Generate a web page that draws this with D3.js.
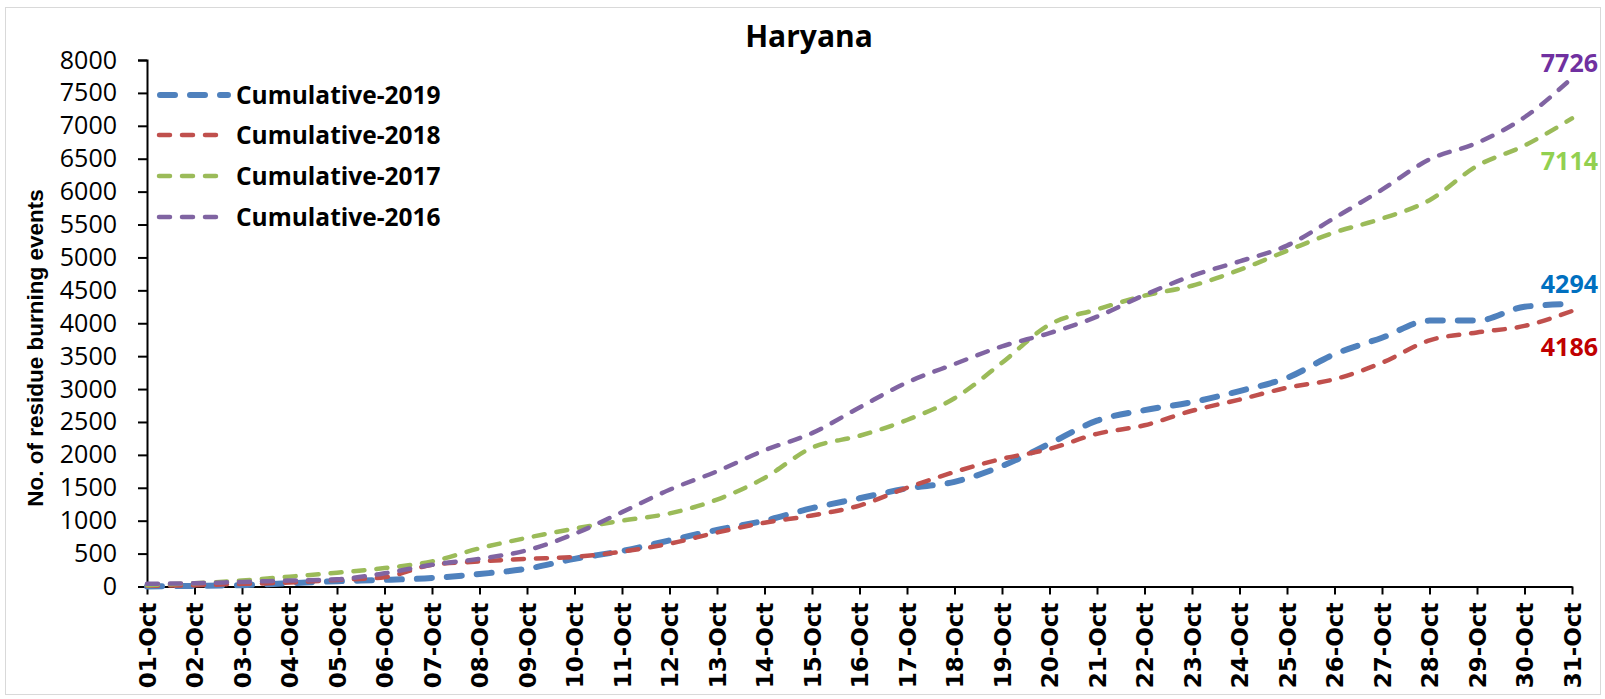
<!DOCTYPE html>
<html>
<head>
<meta charset="utf-8">
<script src="https://cdn.jsdelivr.net/npm/d3@7"></script>
<style>
  html, body { margin: 0; padding: 0; background: #fff; }
  svg { display: block; }
  .tick-y text { font-family: "Open Sans", sans-serif; font-size: 25px; fill: #000; }
  .tick-x text { font-family: "DejaVu Sans", sans-serif; font-weight: bold; font-size: 23px; fill: #000; }
  .legend-label { font-family: "Open Sans", sans-serif; font-weight: bold; font-size: 24.5px; }
</style>
</head>
<body>
<div id="chart"></div>
<script>
// ---------- Data ----------
const days = d3.range(1, 32).map(d => (d < 10 ? "0" + d : "" + d) + "-Oct");

const cum2019 = [0, 10, 20, 50, 80, 100, 130, 190, 270, 420, 540, 700, 860, 1000, 1190, 1340,
  1490, 1590, 1830, 2170, 2520, 2680, 2800, 2970, 3170, 3530, 3780, 4040, 4040, 4250, 4294];
const cum2018 = [10, 20, 40, 60, 100, 140, 330, 380, 420, 450, 530, 650, 820, 970, 1080, 1230,
  1500, 1740, 1940, 2090, 2320, 2450, 2670, 2840, 3020, 3150, 3400, 3740, 3860, 3960, 4186];
const cum2017 = [20, 50, 90, 150, 210, 280, 380, 580, 740, 880, 1000, 1110, 1320, 1650, 2110, 2290,
  2530, 2860, 3400, 3980, 4210, 4420, 4570, 4810, 5100, 5380, 5590, 5870, 6390, 6700, 7114];
const cum2016 = [40, 50, 70, 90, 110, 200, 330, 420, 550, 800, 1130, 1470, 1750, 2070, 2330, 2720,
  3100, 3380, 3650, 3850, 4100, 4430, 4720, 4940, 5180, 5600, 6030, 6490, 6740, 7130, 7726];

const yTicks = d3.range(0, 8001, 500);

const series = [
  { name: "Cumulative-2019", values: cum2019, color: "#4F81BD", labelColor: "#0070C0", width: 6,   dash: "15 15" },
  { name: "Cumulative-2018", values: cum2018, color: "#C0504D", labelColor: "#C00000", width: 4.5, dash: "11 12" },
  { name: "Cumulative-2017", values: cum2017, color: "#9BBB59", labelColor: "#92D050", width: 4.5, dash: "11 12" },
  { name: "Cumulative-2016", values: cum2016, color: "#8064A2", labelColor: "#7030A0", width: 4.5, dash: "11 12" }
];

// end labels placed beside last point (offset in px)
const endLabelOffset = { "Cumulative-2019": -20, "Cumulative-2018": 36, "Cumulative-2017": 43, "Cumulative-2016": -15 };

// ---------- Layout ----------
const width = 1605, height = 699;
const plot = { left: 147, right: 1572, top: 60, bottom: 586.5 };

const svg = d3.select("#chart").append("svg")
  .attr("width", width)
  .attr("height", height);

svg.append("rect")
  .attr("x", 5.5).attr("y", 7.5)
  .attr("width", width - 10).attr("height", height - 12)
  .attr("fill", "#fff")
  .attr("stroke", "#d9d9d9");

// ---------- Scales ----------
const x = d3.scalePoint().domain(days).range([plot.left, plot.right]);
const y = d3.scaleLinear().domain([0, 8000]).range([plot.bottom, plot.top]);

// ---------- Axes ----------
svg.append("g")
  .attr("class", "tick-y")
  .attr("transform", `translate(${plot.left},0)`)
  .call(d3.axisLeft(y).tickValues(yTicks).tickSize(9).tickPadding(21).tickFormat(d3.format("d")));

const xAxis = svg.append("g")
  .attr("class", "tick-x")
  .attr("transform", `translate(0,${plot.bottom})`)
  .call(d3.axisBottom(x).tickSize(8).tickSizeOuter(0));

xAxis.selectAll("text")
  .attr("transform", "rotate(-90)")
  .attr("text-anchor", "end")
  .attr("dy", "0.36em")
  .attr("dx", 0)
  .attr("x", -16)
  .attr("y", 0);

svg.selectAll(".domain, .tick line")
  .attr("stroke", "#000")
  .attr("stroke-width", 2);

// ---------- Lines ----------
const line = d3.line()
  .x((d, i) => x(days[i]))
  .y(d => y(d))
  .curve(d3.curveMonotoneX);

svg.append("g").selectAll("path")
  .data(series)
  .join("path")
  .attr("d", d => line(d.values))
  .attr("fill", "none")
  .attr("stroke", d => d.color)
  .attr("stroke-width", d => d.width)
  .attr("stroke-dasharray", d => d.dash)
  .attr("stroke-linecap", "round");

// ---------- End labels ----------
svg.append("g").selectAll("text")
  .data(series)
  .join("text")
  .attr("x", 1598)
  .attr("y", d => y(d.values[d.values.length - 1]) + endLabelOffset[d.name])
  .attr("text-anchor", "end")
  .attr("dy", "0.35em")
  .attr("font-family", "Open Sans, sans-serif")
  .attr("font-weight", "bold")
  .attr("font-size", 25)
  .attr("fill", d => d.labelColor)
  .text(d => d.values[d.values.length - 1]);

// ---------- Title and axis label ----------
svg.append("text")
  .attr("x", 809).attr("y", 47)
  .attr("text-anchor", "middle")
  .attr("font-family", "Open Sans, sans-serif")
  .attr("font-weight", "bold")
  .attr("font-size", 30)
  .text("Haryana");

svg.append("text")
  .attr("transform", "rotate(-90)")
  .attr("x", -348).attr("y", 43)
  .attr("text-anchor", "middle")
  .attr("font-family", "Liberation Sans, Arial, sans-serif")
  .attr("font-weight", "bold")
  .attr("font-size", 22.5)
  .text("No. of residue burning events");

// ---------- Legend ----------
const legend = svg.append("g").attr("class", "legend");
const legendY = [95, 135, 176, 217];

legend.selectAll("line")
  .data(series)
  .join("line")
  .attr("x1", (d, i) => i === 0 ? 160 : 159)
  .attr("x2", (d, i) => i === 0 ? 228 : 220)
  .attr("y1", (d, i) => legendY[i])
  .attr("y2", (d, i) => legendY[i])
  .attr("stroke", d => d.color)
  .attr("stroke-width", d => d.width)
  .attr("stroke-dasharray", d => d.dash)
  .attr("stroke-linecap", "round");

legend.selectAll("text")
  .data(series)
  .join("text")
  .attr("class", "legend-label")
  .attr("x", 236)
  .attr("y", (d, i) => legendY[i])
  .attr("dy", "0.35em")
  .text(d => d.name);
</script>
</body>
</html>
